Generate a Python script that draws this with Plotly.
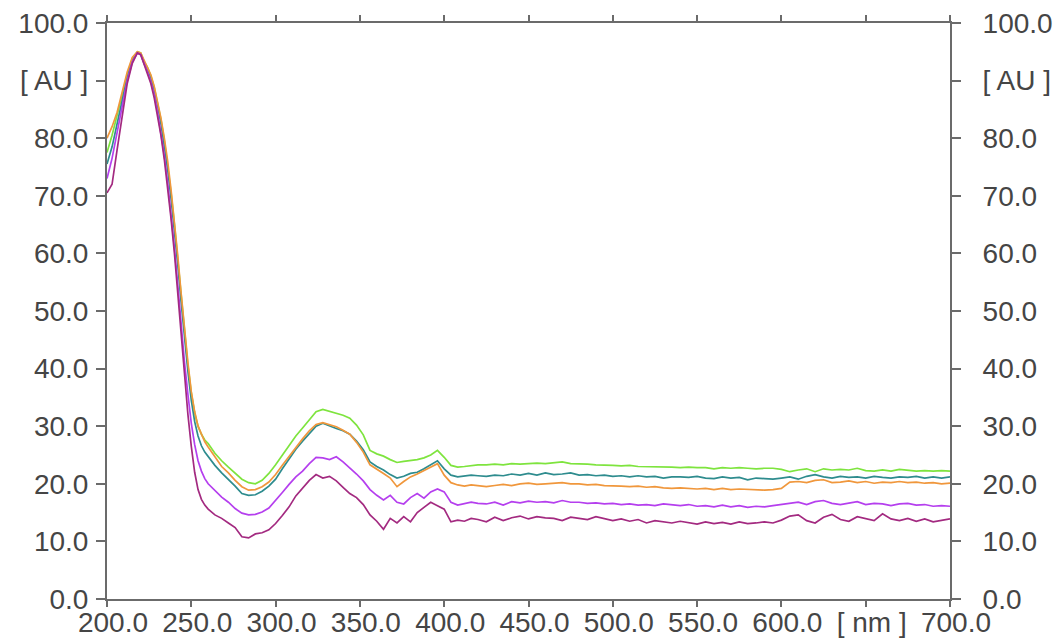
import plotly.graph_objects as go

# ---------------- data ----------------
wavelength = [200, 203, 206, 209, 212, 215, 218, 220, 222, 224, 226, 228, 230, 232, 234, 236, 238, 240,
              242, 244, 246, 248, 250, 252, 254, 256, 258, 260,
              264, 268, 272, 276, 280, 284, 288, 292, 296, 300, 304, 308, 312, 316, 320, 324, 328, 332,
              336, 340, 344, 348, 352, 356, 360, 364, 368, 372, 376, 380, 384, 388, 392, 396, 400, 404,
              408, 412, 416, 420,
              425, 430, 435, 440, 445, 450, 455, 460, 465, 470, 475, 480, 485, 490, 495, 500, 505, 510,
              515, 520, 525, 530, 535, 540, 545, 550, 555, 560, 565, 570, 575, 580, 585, 590, 595, 600,
              605, 610, 615, 620, 625, 630, 635, 640, 645, 650, 655, 660, 665, 670, 675, 680, 685, 690,
              695, 700]

green = [77.5, 80.5, 84.0, 87.5, 91.0, 93.8, 95.0, 94.8, 93.3, 92.3, 90.8, 88.8, 86.2, 83.2, 79.6, 75.5, 70.5, 65.0,
         59.0, 52.5, 46.0, 40.5, 35.8, 32.3, 30.0, 28.6, 27.6, 27.0,
         25.3, 24.0, 22.9, 21.8, 20.8, 20.2, 20.0, 20.6, 21.8, 23.3, 25.0, 26.7, 28.3, 29.7, 31.2, 32.5, 32.9, 32.6,
         32.3, 31.9, 31.4, 30.2, 28.5, 25.8, 25.2, 24.8, 24.2, 23.7, 23.9, 24.0, 24.2, 24.5, 25.0, 25.8, 24.6, 23.2,
         22.9, 23.0, 23.2, 23.3,
         23.3, 23.4, 23.3, 23.5, 23.4, 23.5, 23.6, 23.5, 23.6, 23.8, 23.5, 23.5, 23.4, 23.3, 23.3, 23.2, 23.1, 23.2,
         23.0, 23.0, 22.9, 23.0, 22.9, 22.8, 22.9, 22.8, 22.8, 22.6, 22.8, 22.7, 22.8, 22.7, 22.6, 22.7, 22.7, 22.5,
         22.1, 22.4, 22.6, 22.1, 22.6, 22.4, 22.5, 22.4, 22.7, 22.3, 22.2, 22.4, 22.2, 22.5, 22.3, 22.2, 22.3, 22.2,
         22.3, 22.2]

teal = [75.5, 78.5, 82.5, 86.5, 90.5, 93.5, 94.8, 94.6, 93.0, 92.0, 90.5, 88.3, 85.7, 82.5, 78.8, 74.5, 69.5, 64.0,
        58.0, 51.5, 45.0, 39.5, 34.5, 30.8, 28.3, 26.6, 25.5, 24.7,
        23.2, 21.9, 20.8, 19.6, 18.3, 18.0, 18.1, 18.7, 19.6, 20.8, 22.6, 24.4, 26.0, 27.4, 28.8, 30.0, 30.5, 30.0,
        29.6, 29.2, 28.6, 27.4, 25.9, 23.8, 23.0, 22.4, 21.6, 21.0, 21.3, 21.8, 22.0, 22.6, 23.3, 24.0, 22.6, 21.5,
        21.2, 21.3, 21.5, 21.4,
        21.3, 21.5, 21.4, 21.7, 21.5, 21.8, 21.5, 21.9, 21.6, 21.7, 21.9, 21.5, 21.6, 21.4, 21.5, 21.3, 21.4, 21.2,
        21.4, 21.2, 21.3, 21.0, 21.2, 21.2, 21.1, 21.3, 21.0, 20.9, 21.2, 21.0, 21.1, 20.7, 21.0, 20.9, 20.8, 21.0,
        21.2, 20.8, 21.3, 21.6, 21.2, 21.0, 21.3, 21.1, 21.2, 21.0, 21.3, 21.1, 21.0, 21.2, 21.1, 21.3, 21.0, 21.2,
        21.0, 21.2]

orange = [80.0, 82.0, 84.5, 88.0, 91.5, 94.0, 95.0, 94.8, 93.5, 92.5, 91.0, 89.0, 86.5, 83.5, 80.0, 76.0, 71.0, 65.5,
          59.5, 53.0, 46.5, 41.0, 36.0, 32.5, 30.0, 28.5, 27.3, 26.4,
          24.6, 23.0, 21.9, 20.6, 19.5, 18.9, 19.0, 19.5, 20.3, 21.6, 23.2, 24.8, 26.4, 27.8, 29.2, 30.3, 30.6, 30.3,
          29.9, 29.3, 28.6, 27.2, 25.5, 23.3, 22.6, 21.8, 21.0, 19.5, 20.4, 21.2, 21.7, 22.3, 23.0, 23.5, 21.5, 20.2,
          19.8, 19.6, 19.8, 19.7,
          19.5, 19.7, 19.9, 19.7, 20.0, 20.1, 19.9, 20.0, 20.1, 20.2, 20.0, 20.0, 19.8, 19.9, 19.7, 19.7, 19.6, 19.5,
          19.6, 19.4, 19.5, 19.3, 19.2, 19.3, 19.2, 19.1, 19.2, 19.0, 19.2, 19.0, 19.1, 19.0, 19.0, 18.9, 19.0, 19.2,
          20.3, 20.4, 20.2, 20.6, 20.7, 20.2, 20.3, 20.5, 20.2, 20.4, 20.1, 20.3, 20.2, 20.4, 20.2, 20.3, 20.1, 20.2,
          20.0, 20.1]

violet = [73.0, 76.5, 81.0, 85.5, 90.0, 93.2, 94.8, 94.5, 92.8, 91.5, 89.8, 87.5, 84.5, 81.0, 77.0, 72.3, 67.0, 61.0,
          54.5, 47.5, 41.0, 35.5, 30.5, 26.8, 24.0, 22.2, 20.9, 20.0,
          18.8, 17.7, 16.8, 15.7, 14.9, 14.6, 14.7, 15.1, 15.8, 17.1, 18.5, 19.9, 21.2, 22.2, 23.5, 24.6, 24.5, 24.2,
          24.7, 23.8, 22.8, 21.7, 20.5, 19.0, 18.0, 17.2, 18.0, 16.8, 16.5, 17.6, 18.3, 17.5, 18.6, 19.1, 18.6, 16.8,
          16.3, 16.5, 16.8, 16.6,
          16.5, 16.8, 16.3, 16.9, 16.7, 17.0, 16.8, 16.9, 16.7, 17.1, 16.8, 16.8, 16.6, 16.7, 16.5, 16.6, 16.4, 16.5,
          16.3, 16.4, 16.2, 16.5, 16.3, 16.2, 16.4, 16.1, 16.2, 16.0, 16.3, 16.0, 16.2, 15.9, 16.1, 16.0, 16.2, 16.4,
          16.6, 16.8, 16.4, 16.9, 17.1, 16.6, 16.4, 16.7, 16.9, 16.4, 16.6, 16.5, 16.2, 16.5, 16.6, 16.3, 16.4, 16.1,
          16.2, 16.1]

magenta = [70.5, 72.0, 78.0, 84.0, 89.5, 93.0, 94.8, 94.5, 92.8, 91.3, 89.5, 87.0, 84.0, 80.5, 76.3, 71.5, 66.0, 60.0,
           53.0, 45.5, 38.5, 32.0, 26.5, 22.0, 19.0, 17.3, 16.3, 15.6,
           14.6, 14.0, 13.2, 12.4, 10.8, 10.6, 11.3, 11.5, 12.0, 13.1, 14.5, 16.0, 17.9, 19.2, 20.6, 21.6, 21.0, 21.3,
           20.5, 19.4, 18.3, 17.6, 16.4, 14.6, 13.5, 12.1, 14.0, 13.2, 14.3, 13.4, 15.0, 15.9, 16.8, 16.2, 15.6, 13.4,
           13.7, 13.5, 14.0, 13.8,
           13.4, 14.2, 13.6, 14.1, 14.4, 13.9, 14.3, 14.1, 14.0, 13.6, 14.2, 14.0, 13.8, 14.3, 14.0, 13.6, 13.9, 13.5,
           13.8, 13.2, 13.6, 13.4, 13.2, 13.5, 13.3, 13.0, 13.4, 13.1, 13.3, 13.0, 13.4, 13.1, 13.2, 13.4, 13.2, 13.7,
           14.4, 14.6, 13.6, 13.2, 14.2, 14.7, 13.8, 13.5, 14.3, 14.0, 13.6, 14.8, 13.9, 13.6, 14.0, 13.5, 13.9, 13.4,
           13.6, 13.9]

x_tickvals = [200, 250, 300, 350, 400, 450, 500, 550, 600, 650, 700]
x_ticktext = ["200.0", "250.0", "300.0", "350.0", "400.0", "450.0", "500.0", "550.0", "600.0", "[ nm ]", "700.0"]
y_tickvals = [0, 10, 20, 30, 40, 50, 60, 70, 80, 90, 100]
y_ticktext = ["0.0", "10.0", "20.0", "30.0", "40.0", "50.0", "60.0", "70.0", "80.0", "[ AU ]", "100.0"]

series = [
    ("green", green, "#7EE43E"),
    ("teal", teal, "#2E8C8E"),
    ("orange", orange, "#F0973C"),
    ("violet", violet, "#B53FEE"),
    ("magenta", magenta, "#A32A80"),
]

fig = go.Figure()
for i, (name, vals, col) in enumerate(series):
    fig.add_trace(go.Scatter(x=wavelength, y=vals, mode="lines", name=name,
                             line=dict(color=col, width=1.7),
                             yaxis="y2" if i == len(series) - 1 else "y"))

axis_col = "#6b6b6b"
font_col = "#454545"
fnt = dict(family="Liberation Sans, Arial, sans-serif", size=28, color=font_col)

fig.update_layout(
    width=1064, height=643,
    margin=dict(l=107, r=114, t=23, b=44),
    paper_bgcolor="white", plot_bgcolor="white",
    showlegend=False,
    font=fnt,
    xaxis=dict(range=[200, 700], tickvals=x_tickvals, ticktext=x_ticktext, automargin=False,
               showgrid=False, zeroline=False, showline=True, linecolor=axis_col, linewidth=2,
               mirror="ticks", ticks="outside", ticklen=6, tickwidth=1.5, tickcolor=axis_col,
               tickfont=fnt, ticklabelshift=6, ticklabelstandoff=-9),
    yaxis=dict(range=[0, 100], tickvals=y_tickvals, ticktext=y_ticktext, automargin=False,
               showgrid=False, zeroline=False, showline=True, linecolor=axis_col, linewidth=2,
               ticks="outside", ticklen=9, tickwidth=1.5, tickcolor=axis_col,
               tickfont=fnt, ticklabelstandoff=2),
    yaxis2=dict(range=[0, 100], tickvals=y_tickvals, ticktext=y_ticktext, automargin=False,
                overlaying="y", side="right",
                showgrid=False, zeroline=False, showline=True, linecolor=axis_col, linewidth=2,
                ticks="outside", ticklen=9, tickwidth=1.5, tickcolor=axis_col,
                tickfont=fnt, ticklabelstandoff=16),
)

fig.write_html("out.html")
